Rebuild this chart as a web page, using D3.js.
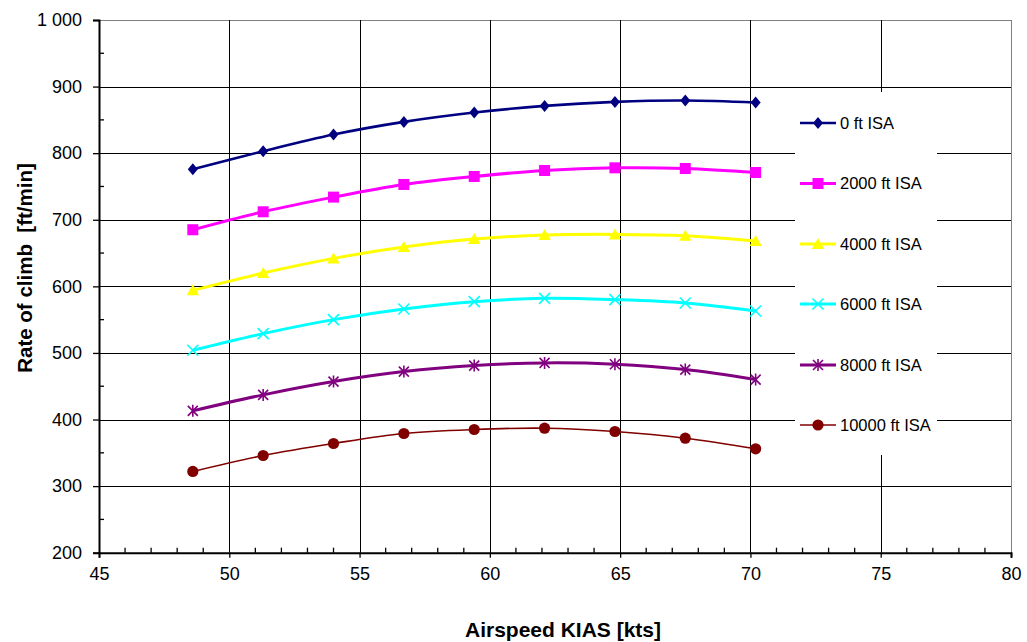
<!DOCTYPE html>
<html>
<head>
<meta charset="utf-8">
<script src="https://cdn.jsdelivr.net/npm/d3@7"></script>
<style>
  html, body { margin: 0; padding: 0; background: #fff; }
  svg { display: block; font-family: "Liberation Sans", Arial, sans-serif; }
</style>
</head>
<body>
<svg id="chart" width="1027" height="642"></svg>
<script>
// ---- data ----
const airspeed = [48.6, 51.3, 54.0, 56.7, 59.4, 62.1, 64.8, 67.5, 70.2];
const seriesNames = ["0 ft ISA", "2000 ft ISA", "4000 ft ISA", "6000 ft ISA", "8000 ft ISA", "10000 ft ISA"];
const roc0 = [776, 803, 828, 847, 861, 871, 877, 879, 876];
const roc2000 = [685, 712, 734, 753, 765, 774, 778, 777, 771];
const roc4000 = [594, 620, 642, 659, 671, 677, 678, 676, 668];
const roc6000 = [504, 529, 550, 566, 577, 582, 580, 575, 563];
const roc8000 = [413, 437, 457, 472, 481, 485, 483, 475, 460];
const roc10000 = [322, 346, 364, 379, 385, 387, 382, 372, 356];
const xTicks = [45, 50, 55, 60, 65, 70, 75, 80];
const yTicks = [200, 300, 400, 500, 600, 700, 800, 900, 1000];

// ---- styles ----
const seriesValues = [roc0, roc2000, roc4000, roc6000, roc8000, roc10000];
const colors = ["#000080", "#FF00FF", "#FFFF00", "#00FFFF", "#800080", "#800000"];
const widths = [2.6, 3, 3, 3, 3, 1.6];
const markers = ["diamond", "square", "triangle", "x", "star", "circle"];

const svg = d3.select("#chart");
const x = d3.scaleLinear().domain([45, 80]).range([99, 1011]);
const y = d3.scaleLinear().domain([200, 1000]).range([552.7, 20]);

const fmt = d3.formatLocale({decimal: ".", thousands: " ", grouping: [3], currency: ["", ""]}).format(",");

// gridlines
const grid = svg.append("g");
grid.selectAll("line.h").data(yTicks.filter(d => d > 200)).join("line")
  .attr("x1", x(45)).attr("x2", x(80))
  .attr("y1", d => Math.round(y(d)) + 0.5).attr("y2", d => Math.round(y(d)) + 0.5)
  .attr("stroke", d => d === 1000 ? "#808080" : "#000").attr("stroke-width", 1);
grid.selectAll("line.v").data(xTicks.filter(d => d > 45)).join("line")
  .attr("x1", d => Math.round(x(d)) + 0.5).attr("x2", d => Math.round(x(d)) + 0.5)
  .attr("y1", y(1000)).attr("y2", y(200))
  .attr("stroke", d => d === 80 ? "#808080" : "#000").attr("stroke-width", 1);

// legend background (covers gridlines)
svg.append("rect").attr("x", 795).attr("y", 92).attr("width", 142).attr("height", 363).attr("fill", "#fff");

// axes
const yAxis = d3.axisLeft(y).tickValues(yTicks).tickSize(6).tickPadding(11).tickFormat(fmt);
const gy = svg.append("g").attr("transform", `translate(${x(45)},0)`).call(yAxis);
const xAxis = d3.axisBottom(x).tickValues(xTicks).tickSize(5).tickPadding(10);
const gx = svg.append("g").attr("transform", `translate(0,${y(200)})`).call(xAxis);
[gx, gy].forEach(g => {
  g.select(".domain").attr("stroke", "#000").attr("stroke-width", 2);
  g.selectAll(".tick line").attr("stroke", "#000").attr("stroke-width", 1.3);
  g.selectAll(".tick text").attr("font-size", "18px").attr("fill", "#000")
    .attr("font-family", "Liberation Sans, Arial, sans-serif");
});
// minor ticks (inside)
const yMinor = d3.range(250, 1000, 100);
svg.append("g").selectAll("line").data(yMinor).join("line")
  .attr("x1", x(45)).attr("x2", x(45) + 5)
  .attr("y1", d => y(d)).attr("y2", d => y(d))
  .attr("stroke", "#000").attr("stroke-width", 1.3);
const xMinor = d3.range(46, 80).filter(d => d % 5 !== 0);
svg.append("g").selectAll("line").data(xMinor).join("line")
  .attr("x1", d => x(d)).attr("x2", d => x(d))
  .attr("y1", y(200)).attr("y2", y(200) - 5)
  .attr("stroke", "#000").attr("stroke-width", 1.3);

// marker drawing
function drawMarker(g, type, color) {
  if (type === "diamond") {
    g.append("path").attr("d", "M0,-6L5,0L0,6L-5,0Z").attr("fill", color);
  } else if (type === "square") {
    g.append("rect").attr("x", -5.5).attr("y", -5.5).attr("width", 11).attr("height", 11).attr("fill", color);
  } else if (type === "triangle") {
    g.append("path").attr("d", "M0,-6L6.2,5L-6.2,5Z").attr("fill", color);
  } else if (type === "x") {
    g.append("path").attr("d", "M-5.5,-5.5L5.5,5.5M-5.5,5.5L5.5,-5.5").attr("stroke", color).attr("stroke-width", 1.6).attr("fill", "none");
  } else if (type === "star") {
    g.append("path").attr("d", "M-5,-5L5,5M-5,5L5,-5M0,-6L0,6").attr("stroke", color).attr("stroke-width", 1.6).attr("fill", "none");
  } else if (type === "circle") {
    g.append("circle").attr("r", 5.6).attr("fill", color);
  }
}

// series
const line = d3.line().x(d => x(d[0])).y(d => y(d[1])).curve(d3.curveCatmullRom.alpha(0.5));
seriesValues.forEach((vals, i) => {
  const pts = airspeed.map((a, j) => [a, vals[j]]);
  svg.append("path").datum(pts).attr("d", line)
    .attr("fill", "none").attr("stroke", colors[i]).attr("stroke-width", widths[i])
    .attr("stroke-linejoin", "round");
  pts.forEach(p => {
    const g = svg.append("g").attr("transform", `translate(${x(p[0])},${y(p[1])})`);
    drawMarker(g, markers[i], colors[i]);
  });
});

// legend
const rowsY = [123, 183.5, 244, 304, 365, 425];
seriesNames.forEach((name, i) => {
  const gy0 = rowsY[i];
  svg.append("line").attr("x1", 800).attr("x2", 836).attr("y1", gy0).attr("y2", gy0)
    .attr("stroke", colors[i]).attr("stroke-width", widths[i]);
  const g = svg.append("g").attr("transform", `translate(818,${gy0})`);
  drawMarker(g, markers[i], colors[i]);
  svg.append("text").attr("x", 840).attr("y", gy0).attr("dy", "0.36em")
    .attr("font-size", "16.5px").attr("fill", "#000").text(name);
});

// axis titles
svg.append("text").attr("x", 563).attr("y", 637).attr("text-anchor", "middle")
  .attr("font-size", "21px").attr("font-weight", "bold").attr("fill", "#000")
  .text("Airspeed KIAS [kts]");
svg.append("text").attr("transform", "translate(32,268) rotate(-90)").attr("text-anchor", "middle")
  .attr("font-size", "20.5px").attr("font-weight", "bold").attr("fill", "#000")
  .attr("xml:space", "preserve").style("white-space", "pre")
  .text("Rate of climb  [ft/min]");
</script>
</body>
</html>
